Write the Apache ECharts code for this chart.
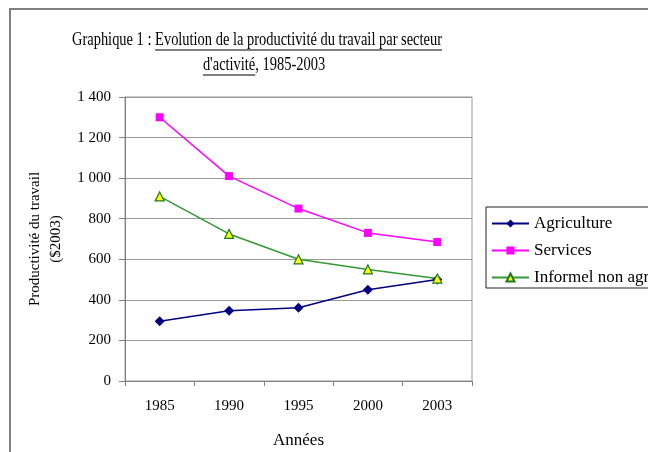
<!DOCTYPE html>
<html>
<head>
<meta charset="utf-8">
<script src="https://cdn.jsdelivr.net/npm/echarts@6/dist/echarts.min.js"></script>
<style>
  html, body { margin: 0; padding: 0; background: #fff; }
  #chart { width: 648px; height: 452px; }
</style>
</head>
<body>
<div id="chart"></div>
<script>
// données
const years = ['1985', '1990', '1995', '2000', '2003']
const agriculture = [295, 346, 361, 450, 500]
const services = [1300, 1010, 850, 730, 685]
const informel = [910, 725, 600, 550, 505]
const seriesNames = ['Agriculture', 'Services', 'Informel non agricole']

const FONT = '"Liberation Serif", "Times New Roman", serif'

const chart = echarts.init(document.getElementById('chart'))

// titre : mesure du texte pour placer les soulignements
const ctx = document.createElement('canvas').getContext('2d')
const titleSize = 19
ctx.font = titleSize + 'px "Liberation Serif"'
const tw = s => ctx.measureText(s).width
const t1a = 'Graphique 1 : '
const t1b = 'Evolution de la productivité du travail par secteur'
const t2a = "d'activité"
const t2b = ', 1985-2003'
const w1 = tw(t1a) + tw(t1b)
const w2 = tw(t2a) + tw(t2b)
const sx = 370 / w1   // texte un peu comprimé dans l'original

function txt(x, y, s){
  return {
    type: 'text', x: x, y: y,
    style: { text: s, font: titleSize + 'px ' + FONT, fill: '#000', verticalAlign: 'middle' }
  }
}
function uline(x1, x2, y){
  return {
    type: 'line',
    shape: { x1: x1, y1: y, x2: x2, y2: y },
    style: { stroke: '#000', lineWidth: 1.2 }
  }
}

const titleGroup = {
  type: 'group', x: 257, y: 0, scaleX: sx,
  children: [
    txt(-w1 / 2, 40, t1a),
    txt(-w1 / 2 + tw(t1a), 40, t1b),
    uline(-w1 / 2 + tw(t1a), w1 / 2, 50),
    txt(-w2 / 2 + 7 / sx, 65, t2a),
    txt(-w2 / 2 + 7 / sx + tw(t2a), 65, t2b),
    uline(-w2 / 2 + 7 / sx, -w2 / 2 + 7 / sx + tw(t2a), 75)
  ]
}

const option = {
  backgroundColor: '#fff',
  animation: false,
  textStyle: { fontFamily: FONT },
  graphic: [
    {
      type: 'rect',
      shape: { x: 10, y: 9, width: 700, height: 500 },
      style: { fill: 'none', stroke: '#808080', lineWidth: 2 }
    },
    titleGroup
  ],
  grid: {
    left: 125, right: 176, top: 97, bottom: 71,
    outerBoundsMode: 'none',
    containLabel: false,
    show: true, borderColor: '#999', borderWidth: 1
  },
  legend: {
    orient: 'vertical',
    left: 486, top: 207,
    padding: [8, 200, 2, 5],
    itemWidth: 37, itemHeight: 10, itemGap: 10,
    borderColor: '#222', borderWidth: 1,
    data: seriesNames,
    textStyle: { fontFamily: FONT, fontSize: 17, color: '#000' }
  },
  xAxis: {
    type: 'category',
    data: years,
    boundaryGap: true,
    name: 'Années',
    nameLocation: 'middle',
    nameGap: 51,
    nameTextStyle: { fontFamily: FONT, fontSize: 17, color: '#000' },
    axisLine: { lineStyle: { color: '#808080', width: 1 } },
    axisTick: { show: true, inside: false, length: 5, lineStyle: { color: '#808080' } },
    axisLabel: { margin: 18, fontFamily: FONT, fontSize: 15, color: '#000' },
    splitLine: { show: false }
  },
  yAxis: {
    type: 'value',
    min: 0, max: 1400, interval: 200,
    name: 'Productivité du travail\n($2003)',
    nameLocation: 'middle',
    nameGap: 55,
    nameRotate: 90,
    nameTextStyle: { fontFamily: FONT, fontSize: 15, color: '#000', lineHeight: 21 },
    axisLine: { show: true, lineStyle: { color: '#808080', width: 1 } },
    axisTick: { show: true, inside: false, length: 6, lineStyle: { color: '#808080' } },
    axisLabel: {
      margin: 14, fontFamily: FONT, fontSize: 15, color: '#000',
      formatter: v => v >= 1000 ? Math.floor(v / 1000) + ' ' + String(v % 1000).padStart(3, '0') : String(v)
    },
    splitLine: { show: true, lineStyle: { color: '#999', width: 1 } }
  },
  series: [
    {
      name: seriesNames[0],
      type: 'line',
      data: agriculture,
      symbol: 'diamond', symbolSize: 10,
      itemStyle: { color: '#000080' },
      lineStyle: { color: '#000080', width: 1.5 }
    },
    {
      name: seriesNames[1],
      type: 'line',
      data: services,
      symbol: 'rect', symbolSize: 8,
      itemStyle: { color: '#ff00ff' },
      lineStyle: { color: '#ff00ff', width: 1.5 }
    },
    {
      name: seriesNames[2],
      type: 'line',
      data: informel,
      symbol: 'triangle', symbolSize: 9,
      itemStyle: { color: '#ffff00', borderColor: '#1f7a1f', borderWidth: 1.2 },
      lineStyle: { color: '#339933', width: 1.5 }
    }
  ]
}

chart.setOption(option)
</script>
</body>
</html>
